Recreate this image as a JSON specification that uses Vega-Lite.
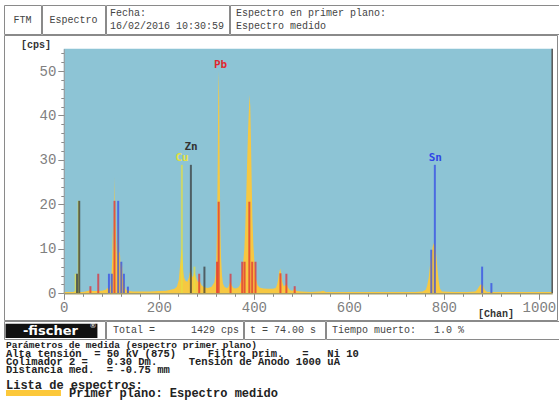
{
  "$schema": "https://vega.github.io/schema/vega-lite/v6.json",
  "padding": {"left": 3, "top": 4, "right": 0, "bottom": 0},
  "background": "white",
  "spacing": -1,
  "datasets": {
    "spectrum": [
      {"ch":0,"cps":0.3},{"ch":10,"cps":0.3},{"ch":20,"cps":0.3},{"ch":24,"cps":0.5},{"ch":26,"cps":0.3},{"ch":40,"cps":0.3},{"ch":50,"cps":0.5},{"ch":56,"cps":0.7},{"ch":60,"cps":0.5},{"ch":70,"cps":0.5},{"ch":80,"cps":0.6},{"ch":88,"cps":0.8},{"ch":92,"cps":1.2},{"ch":95,"cps":0.9},{"ch":98,"cps":1.6},{"ch":100,"cps":3},{"ch":102,"cps":8},{"ch":103,"cps":15.2},{"ch":104,"cps":9},{"ch":105,"cps":14},{"ch":106.5,"cps":26.2},{"ch":108,"cps":14},{"ch":109,"cps":20.5},{"ch":110,"cps":11.5},{"ch":111,"cps":8},{"ch":112,"cps":12},{"ch":114.5,"cps":17.6},{"ch":116,"cps":9},{"ch":118,"cps":9.4},{"ch":120,"cps":5},{"ch":121.5,"cps":7},{"ch":123,"cps":6},{"ch":124.5,"cps":3},{"ch":126,"cps":3.4},{"ch":128,"cps":1.5},{"ch":131,"cps":0.8},{"ch":135,"cps":0.6},{"ch":145,"cps":0.4},{"ch":160,"cps":0.4},{"ch":180,"cps":0.4},{"ch":200,"cps":0.5},{"ch":215,"cps":0.6},{"ch":225,"cps":0.8},{"ch":233,"cps":1},{"ch":238,"cps":1.5},{"ch":242,"cps":3},{"ch":245,"cps":6.5},{"ch":247,"cps":9},{"ch":248.7,"cps":10.3},{"ch":250,"cps":8},{"ch":251.5,"cps":5},{"ch":253,"cps":3.6},{"ch":256,"cps":2.8},{"ch":260,"cps":2.6},{"ch":263,"cps":3.5},{"ch":265,"cps":4.6},{"ch":267,"cps":5.3},{"ch":269,"cps":4.2},{"ch":271,"cps":3.6},{"ch":273,"cps":4},{"ch":275,"cps":4.9},{"ch":277,"cps":4},{"ch":280,"cps":3.1},{"ch":283,"cps":2.5},{"ch":286,"cps":2.7},{"ch":290,"cps":1.8},{"ch":294,"cps":1.5},{"ch":298,"cps":1.3},{"ch":302,"cps":1.2},{"ch":307,"cps":1.3},{"ch":311,"cps":1.5},{"ch":314,"cps":2},{"ch":317,"cps":2.5},{"ch":319,"cps":4},{"ch":321,"cps":8},{"ch":322.5,"cps":14},{"ch":324,"cps":30},{"ch":325,"cps":44},{"ch":326,"cps":50},{"ch":327,"cps":44},{"ch":328,"cps":30},{"ch":329.5,"cps":15},{"ch":331,"cps":8},{"ch":333,"cps":4},{"ch":335,"cps":2.2},{"ch":338,"cps":1.5},{"ch":342,"cps":1.2},{"ch":346,"cps":1.3},{"ch":349,"cps":2.2},{"ch":351,"cps":2.6},{"ch":353,"cps":1.8},{"ch":357,"cps":1.2},{"ch":362,"cps":1.1},{"ch":367,"cps":1.3},{"ch":370,"cps":1.7},{"ch":373,"cps":2.8},{"ch":376,"cps":5},{"ch":378,"cps":7.5},{"ch":380,"cps":10},{"ch":382,"cps":15},{"ch":384,"cps":22},{"ch":386,"cps":30},{"ch":388,"cps":37},{"ch":389.5,"cps":41},{"ch":391,"cps":44.6},{"ch":392.5,"cps":42},{"ch":394,"cps":34},{"ch":395.5,"cps":25},{"ch":397,"cps":17},{"ch":399,"cps":11},{"ch":401,"cps":7.5},{"ch":403,"cps":4.5},{"ch":405,"cps":3},{"ch":408,"cps":1.8},{"ch":412,"cps":1.3},{"ch":420,"cps":1.1},{"ch":430,"cps":1},{"ch":440,"cps":1},{"ch":446,"cps":1.2},{"ch":449,"cps":2},{"ch":451,"cps":3},{"ch":453,"cps":4.6},{"ch":455.5,"cps":5.6},{"ch":457.5,"cps":4.5},{"ch":460,"cps":2.5},{"ch":463,"cps":1.6},{"ch":466,"cps":1.8},{"ch":469,"cps":2.1},{"ch":472,"cps":1.3},{"ch":476,"cps":0.7},{"ch":482,"cps":0.6},{"ch":485,"cps":1},{"ch":487,"cps":0.9},{"ch":490,"cps":0.5},{"ch":500,"cps":0.4},{"ch":520,"cps":0.3},{"ch":540,"cps":0.4},{"ch":546,"cps":0.6},{"ch":552,"cps":0.3},{"ch":600,"cps":0.3},{"ch":650,"cps":0.3},{"ch":700,"cps":0.3},{"ch":740,"cps":0.3},{"ch":755,"cps":0.4},{"ch":762,"cps":0.8},{"ch":765,"cps":1.8},{"ch":768,"cps":3.5},{"ch":771,"cps":6.5},{"ch":774,"cps":9},{"ch":776.5,"cps":10.6},{"ch":779,"cps":11.3},{"ch":781.5,"cps":10.6},{"ch":784,"cps":8.5},{"ch":786.5,"cps":5.5},{"ch":789,"cps":2.8},{"ch":792,"cps":1},{"ch":796,"cps":0.4},{"ch":820,"cps":0.3},{"ch":850,"cps":0.3},{"ch":866,"cps":0.4},{"ch":870,"cps":0.8},{"ch":873,"cps":1.3},{"ch":876,"cps":1.8},{"ch":879,"cps":2.1},{"ch":882,"cps":1.8},{"ch":885,"cps":1},{"ch":888,"cps":0.5},{"ch":892,"cps":0.3},{"ch":950,"cps":0.3},{"ch":1000,"cps":0.3},{"ch":1028,"cps":0.3}
    ],
    "lines": [
      {"el":"Cu","ch":25,"h":4.4},{"el":"Cu","ch":31.3,"h":20.8},{"el":"Cu","ch":248.5,"h":28.9},{"el":"Cu","ch":275,"h":6.0},
      {"el":"Zn","ch":27.8,"h":4.4},{"el":"Zn","ch":32.5,"h":20.8},{"el":"Zn","ch":267.5,"h":28.9},{"el":"Zn","ch":296,"h":6.0},
      {"el":"Pb","ch":56,"h":1.6},{"el":"Pb","ch":72.5,"h":4.4},{"el":"Pb","ch":106.7,"h":20.8},{"el":"Pb","ch":285,"h":4.4},{"el":"Pb","ch":322.5,"h":7.1},{"el":"Pb","ch":326,"h":20.6},{"el":"Pb","ch":351,"h":4.4},{"el":"Pb","ch":375.5,"h":7.1},{"el":"Pb","ch":380.5,"h":7.1},{"el":"Pb","ch":390.5,"h":20.6},{"el":"Pb","ch":396.5,"h":7.1},{"el":"Pb","ch":403.5,"h":7.1},{"el":"Pb","ch":456,"h":4.5},{"el":"Pb","ch":468.5,"h":4.4},{"el":"Pb","ch":486,"h":1.6},
      {"el":"Sn","ch":95,"h":4.4},{"el":"Sn","ch":101,"h":4.4},{"el":"Sn","ch":114.5,"h":20.8},{"el":"Sn","ch":121,"h":7.1},{"el":"Sn","ch":126.5,"h":4.4},{"el":"Sn","ch":135,"h":1.5},{"el":"Sn","ch":773.5,"h":9.8},{"el":"Sn","ch":781,"h":28.9},{"el":"Sn","ch":880.5,"h":6.0},{"el":"Sn","ch":900,"h":2.3}
    ],
    "labels": [
      {"el":"Pb","ch":330,"cps":51.3},{"el":"Zn","ch":268,"cps":32.8},{"el":"Cu","ch":249,"cps":30.4},{"el":"Sn","ch":782,"cps":30.4}
    ]
  },
  "config": {
    "view": {"stroke": "#8a8a8a"}
  },
  "vconcat": [
    {
      "hconcat": [
        {"width": 37, "height": 29, "data": {"values": [{"t": "FTM"}]},
         "mark": {"type": "text", "font": "Liberation Mono", "fontSize": 10, "color": "#444"},
         "encoding": {
           "x": {"datum": 0.5, "type": "quantitative", "scale": {"domain": [0, 1]}, "axis": null},
           "y": {"datum": 0.5, "type": "quantitative", "scale": {"domain": [0, 1]}, "axis": null},
           "text": {"field": "t"}}},
        {"width": 63, "height": 29, "data": {"values": [{"t": "Espectro"}]},
         "mark": {"type": "text", "font": "Liberation Mono", "fontSize": 10, "color": "#444"},
         "encoding": {
           "x": {"datum": 0.5, "type": "quantitative", "scale": {"domain": [0, 1]}, "axis": null},
           "y": {"datum": 0.5, "type": "quantitative", "scale": {"domain": [0, 1]}, "axis": null},
           "text": {"field": "t"}}},
        {"width": 123, "height": 29, "data": {"values": [{"r": 1, "t": "Fecha:"}, {"r": 2, "t": "16/02/2016 10:30:59"}]},
         "mark": {"type": "text", "font": "Liberation Mono", "fontSize": 10, "color": "#444", "align": "left", "dx": 4},
         "encoding": {
           "x": {"datum": 0, "type": "quantitative", "scale": {"domain": [0, 1]}, "axis": null},
           "y": {"field": "r", "type": "ordinal", "scale": {"type": "point", "padding": 0.6}, "axis": null},
           "text": {"field": "t"}}},
        {"width": 330, "height": 29, "data": {"values": [{"r": 1, "t": "Espectro en primer plano:"}, {"r": 2, "t": "Espectro medido"}]},
         "mark": {"type": "text", "font": "Liberation Mono", "fontSize": 10, "color": "#444", "align": "left", "dx": 6},
         "encoding": {
           "x": {"datum": 0, "type": "quantitative", "scale": {"domain": [0, 1]}, "axis": null},
           "y": {"field": "r", "type": "ordinal", "scale": {"type": "point", "padding": 0.6}, "axis": null},
           "text": {"field": "t"}}}
      ],
      "spacing": -1
    },
    {
      "width": 553,
      "height": 285,
      "resolve": {"axis": {"x": "independent", "y": "independent"}},
      "layer": [
        {
          "data": {"values": [{}]},
          "mark": {"type": "rect", "fill": "#8dc4d5"},
          "encoding": {
            "x": {"datum": 0, "type": "quantitative",
              "axis": {"orient": "bottom", "values": [0,40,80,120,160,200,240,280,320,360,400,440,480,520,560,600,640,680,720,760,800,840,880,920,960,1000],
                "labels": false, "domain": false, "tickSize": 3, "tickColor": "#8a8a8a", "offset": -26.7, "title": null, "grid": false, "zindex": 1}},
            "x2": {"datum": 1028},
            "y": {"datum": 0, "type": "quantitative",
              "axis": {"orient": "left", "values": [0,2,4,6,8,10,12,14,16,18,20,22,24,26,28,30,32,34,36,38,40,42,44,46,48,50,52,54],
                "labels": false, "domain": false, "tickSize": 3, "tickColor": "#8a8a8a", "offset": -59.8, "title": null, "grid": false, "zindex": 1}},
            "y2": {"datum": 55}
          }
        },
        {
          "data": {"name": "spectrum"},
          "mark": {"type": "area", "color": "#fcc83a", "opacity": 0.95, "interpolate": "linear"},
          "encoding": {
            "x": {"field": "ch", "type": "quantitative",
              "scale": {"domain": [0, 1028], "range": [59.8, 548.2], "nice": false, "zero": false},
              "axis": {
                "orient": "bottom",
                "values": [0, 200, 400, 600, 800, 1000],
                "format": "d",
                "tickSize": 6,
                "offset": -26.7,
                "labelFont": "Liberation Mono", "labelFontSize": 14, "labelColor": "#808080",
                "labelPadding": 1, "labelOverlap": false, "labelFlush": false,
                "domainColor": "#a39c6c", "domainWidth": 1.5, "tickColor": "#8a8a8a", "grid": false, "zindex": 1,
                "title": "[Chan]", "titleX": 473.5, "titleY": 19.7, "titleAlign": "left", "titleBaseline": "middle",
                "titleFont": "Liberation Mono", "titleFontSize": 10, "titleFontWeight": "bold", "titleColor": "#333"
              }},
            "y": {"field": "cps", "type": "quantitative",
              "scale": {"domain": [0, 55], "range": [258.3, 13.8], "nice": false, "zero": false},
              "axis": {
                "orient": "left",
                "values": [0, 10, 20, 30, 40, 50],
                "format": "d",
                "tickSize": 6,
                "offset": -59.8,
                "labelFont": "Liberation Mono", "labelFontSize": 14, "labelColor": "#808080",
                "labelPadding": 2, "labelOverlap": false, "labelFlush": false,
                "domainColor": "#9a9a9a", "tickColor": "#8a8a8a", "grid": false, "zindex": 1,
                "title": "[cps]", "titleAngle": 0, "titleX": -43.3, "titleY": 9.8, "titleAlign": "left", "titleBaseline": "middle",
                "titleFont": "Liberation Mono", "titleFontSize": 10, "titleFontWeight": "bold", "titleColor": "#333"
              }}
          }
        },
        {
          "data": {"name": "lines"},
          "mark": {"type": "rule", "strokeWidth": 2, "opacity": 0.7},
          "encoding": {
            "x": {"field": "ch", "type": "quantitative", "axis": null},
            "y": {"field": "h", "type": "quantitative", "axis": null},
            "y2": {"datum": 0},
            "color": {"field": "el", "type": "nominal",
              "scale": {"domain": ["Cu", "Zn", "Pb", "Sn"], "range": ["#e4e040", "#333333", "#e02830", "#2f45e6"]},
              "legend": null}
          }
        },
        {
          "data": {"name": "labels"},
          "mark": {"type": "text", "font": "DejaVu Sans Mono", "fontWeight": "bold", "fontSize": 11, "baseline": "middle"},
          "encoding": {
            "x": {"field": "ch", "type": "quantitative", "axis": null},
            "y": {"field": "cps", "type": "quantitative", "axis": null},
            "text": {"field": "el"},
            "color": {"field": "el", "type": "nominal", "legend": null}
          }
        },
        {
          "data": {"values": [{}]},
          "mark": {"type": "rule", "color": "#555", "strokeWidth": 1.5},
          "encoding": {
            "x": {"datum": 1028, "type": "quantitative", "axis": null},
            "y": {"datum": 0, "type": "quantitative", "axis": null},
            "y2": {"datum": 55}
          }
        }
      ]
    },
    {
      "hconcat": [
        {"width": 101, "height": 18,
         "layer": [
           {"data": {"values": [{}]},
            "mark": {"type": "rect", "color": "#111"},
            "encoding": {
              "x": {"datum": 0.015, "type": "quantitative", "scale": {"domain": [0, 1]}, "axis": null},
              "x2": {"datum": 0.925},
              "y": {"datum": 0.05, "type": "quantitative", "scale": {"domain": [0, 1]}, "axis": null},
              "y2": {"datum": 0.85}}},
           {"data": {"values": [{"t": "-fischer"}]},
            "mark": {"type": "text", "color": "white", "font": "DejaVu Sans", "fontWeight": "bold", "fontSize": 13},
            "encoding": {"text": {"field": "t"}, "x": {"datum": 0.46}, "y": {"datum": 0.45}}},
           {"data": {"values": [{"t": "®"}]},
            "mark": {"type": "text", "color": "white", "font": "DejaVu Sans", "fontSize": 7},
            "encoding": {"text": {"field": "t"}, "x": {"datum": 0.88}, "y": {"datum": 0.72}}}
         ]},
        {"width": 137, "height": 18,
         "layer": [
           {"data": {"values": [{"t": "Total ="}]},
            "mark": {"type": "text", "font": "Liberation Mono", "fontSize": 10, "color": "#444", "align": "left", "dx": 7},
            "encoding": {"text": {"field": "t"},
              "x": {"datum": 0, "type": "quantitative", "scale": {"domain": [0, 1]}, "axis": null},
              "y": {"datum": 0.5, "type": "quantitative", "scale": {"domain": [0, 1]}, "axis": null}}},
           {"data": {"values": [{"t": "1429 cps"}]},
            "mark": {"type": "text", "font": "Liberation Mono", "fontSize": 10, "color": "#444", "align": "right", "dx": -4},
            "encoding": {"text": {"field": "t"}, "x": {"datum": 1, "type": "quantitative"}, "y": {"datum": 0.5, "type": "quantitative"}}}
         ]},
        {"width": 81, "height": 18, "data": {"values": [{"t": "t = 74.00 s"}]},
         "mark": {"type": "text", "font": "Liberation Mono", "fontSize": 10, "color": "#444", "align": "left", "dx": 6},
         "encoding": {"text": {"field": "t"},
           "x": {"datum": 0, "type": "quantitative", "scale": {"domain": [0, 1]}, "axis": null},
           "y": {"datum": 0.5, "type": "quantitative", "scale": {"domain": [0, 1]}, "axis": null}}},
        {"width": 237, "height": 18, "data": {"values": [{"t": "Tiempo muerto:\u00a0\u00a0\u00a01.0 %"}]},
         "mark": {"type": "text", "font": "Liberation Mono", "fontSize": 10, "color": "#444", "align": "left", "dx": 6},
         "encoding": {"text": {"field": "t"},
           "x": {"datum": 0, "type": "quantitative", "scale": {"domain": [0, 1]}, "axis": null},
           "y": {"datum": 0.5, "type": "quantitative", "scale": {"domain": [0, 1]}, "axis": null}}}
      ],
      "spacing": -1
    },
    {
      "width": 553,
      "height": 62,
      "view": {"stroke": null},
      "data": {"values": [
        {"r": 1, "t": "Parámetros de medida (espectro primer plano)"},
        {"r": 2, "t": "Alta tensión\u00a0\u00a0= 50 kV (875)\u00a0\u00a0\u00a0\u00a0\u00a0Filtro prim.\u00a0\u00a0\u00a0=\u00a0\u00a0\u00a0Ni 10"},
        {"r": 3, "t": "Colimador 2 =\u00a0\u00a0\u00a00.30 Dm.\u00a0\u00a0\u00a0\u00a0\u00a0Tensión de Ánodo 1000 uA"},
        {"r": 4, "t": "Distancia med.\u00a0\u00a0= -0.75 mm"},
        {"r": 6, "t": "Lista de espectros:"},
        {"r": 7, "t": "Primer plano: Espectro medido"}
      ]},
      "layer": [
        {
          "data": {"values": [{}]},
          "mark": {"type": "rect", "color": "#fcc83a"},
          "encoding": {
            "x": {"datum": 0.0036, "type": "quantitative", "scale": {"domain": [0, 1]}, "axis": null},
            "x2": {"datum": 0.103},
            "y": {"datum": 6.14, "type": "quantitative", "scale": {"domain": [1, 7], "range": [8.4, 57], "zero": false, "nice": false}, "axis": null},
            "y2": {"datum": 6.88}
          }
        },
        {
          "transform": [{"filter": "datum.r === 1"}],
          "mark": {"type": "text", "font": "Liberation Mono", "fontWeight": "bold", "fontSize": 9.5, "color": "#222",
                   "align": "left", "baseline": "alphabetic", "dx": 2},
          "encoding": {
            "x": {"datum": 0, "type": "quantitative"},
            "y": {"field": "r", "type": "quantitative"},
            "text": {"field": "t"}
          }
        },
        {
          "transform": [{"filter": "datum.r >= 2 && datum.r <= 4"}],
          "mark": {"type": "text", "font": "Liberation Mono", "fontWeight": "bold", "fontSize": 10.5, "color": "#222",
                   "align": "left", "baseline": "alphabetic", "dx": 2},
          "encoding": {
            "x": {"datum": 0, "type": "quantitative"},
            "y": {"field": "r", "type": "quantitative"},
            "text": {"field": "t"}
          }
        },
        {
          "transform": [{"filter": "datum.r === 6"}],
          "mark": {"type": "text", "font": "Liberation Mono", "fontWeight": "bold", "fontSize": 12, "color": "#222",
                   "align": "left", "baseline": "alphabetic", "dx": 2},
          "encoding": {
            "x": {"datum": 0, "type": "quantitative"},
            "y": {"field": "r", "type": "quantitative"},
            "text": {"field": "t"}
          }
        },
        {
          "transform": [{"filter": "datum.r === 7"}],
          "mark": {"type": "text", "font": "Liberation Mono", "fontWeight": "bold", "fontSize": 12, "color": "#222",
                   "align": "left", "baseline": "alphabetic", "dx": 65},
          "encoding": {
            "x": {"datum": 0, "type": "quantitative"},
            "y": {"field": "r", "type": "quantitative"},
            "text": {"field": "t"}
          }
        }
      ]
    }
  ]
}
